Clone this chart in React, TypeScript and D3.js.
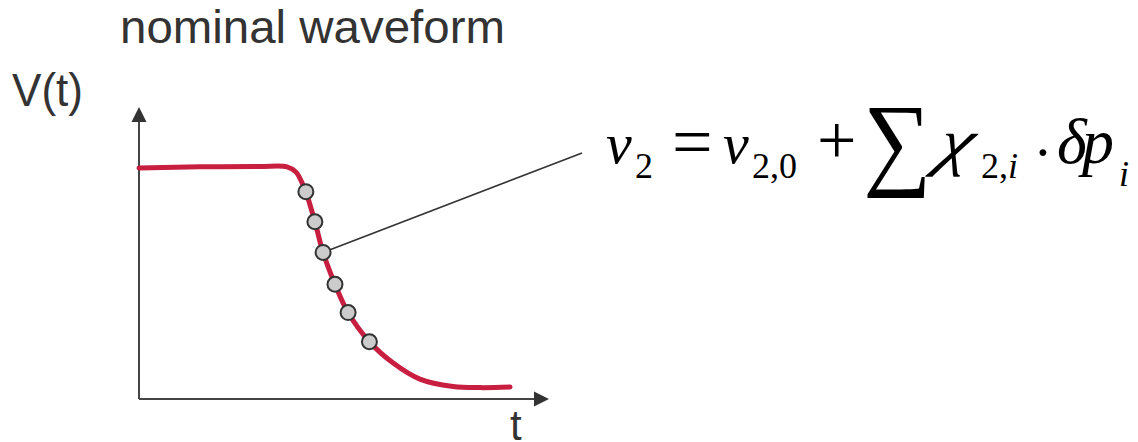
import React from "react";
import * as d3 from "d3";

// Nominal waveform samples (t and V in percent of the axis range)
const waveT = [0, 14.9, 29.5, 36.1, 38.3, 40.0, 40.7, 42.9, 44.9, 47.8, 51.0, 56.2, 62.0, 68.5, 76.6, 83.2, 90.5];
const waveV = [79.1, 79.5, 79.6, 79.5, 77.7, 73.3, 71.0, 60.7, 50.2, 39.3, 29.6, 19.6, 12.3, 6.8, 4.3, 3.9, 4.1];

// Sample points marked on the falling edge
const sampleT = [40.7, 42.9, 44.9, 47.8, 51.0, 56.2];
const sampleV = [71.0, 60.7, 50.2, 39.3, 29.6, 19.6];
const highlightedSample = 2;

const titleText = "nominal waveform";
const yLabel = "V(t)";
const xLabel = "t";

const W = 1138;
const H = 442;
const RED = "#c81e40";
const INK = "#333333";

export default function App() {
  const x = d3.scaleLinear().domain([0, 100]).range([139, 549]);
  const y = d3.scaleLinear().domain([0, 100]).range([399, 107]);

  const pts: [number, number][] = waveT.map((t, i) => [x(t), y(waveV[i])]);
  const line = d3
    .line<[number, number]>()
    .x((d) => d[0])
    .y((d) => d[1])
    .curve(d3.curveCatmullRom.alpha(0.5));

  const hx = x(sampleT[highlightedSample]);
  const hy = y(sampleV[highlightedSample]);
  const r = 7.5;
  const leadEnd = [582, 153];
  const ang = Math.atan2(leadEnd[1] - hy, leadEnd[0] - hx);
  const lx0 = hx + r * Math.cos(ang);
  const ly0 = hy + r * Math.sin(ang);

  const serif = "'Liberation Serif', 'Times New Roman', serif";
  const sans = "'Liberation Sans', Arial, sans-serif";

  return (
    <svg width={W} height={H} style={{ position: "absolute", left: 0, top: 0, background: "#fff" }}>
      <rect width={W} height={H} fill="#fff" />
      <text x={120} y={43} fontFamily={sans} fontSize={46} fill={INK} textLength={385} lengthAdjust="spacingAndGlyphs">
        {titleText}
      </text>
      <text x={12} y={106} fontFamily={sans} fontSize={47} fill={INK} textLength={71} lengthAdjust="spacingAndGlyphs">
        {yLabel}
      </text>
      <text x={510} y={440} fontFamily={sans} fontSize={42} fill={INK}>
        {xLabel}
      </text>

      {/* axes */}
      <line x1={x(0)} y1={y(0)} x2={x(0)} y2={y(100) + 12} stroke="#444" strokeWidth={2} />
      <line x1={x(0)} y1={y(0)} x2={x(100) - 12} y2={y(0)} stroke="#444" strokeWidth={2} />
      <path d={`M${x(0)},${y(100)} L${x(0) - 7.5},${y(100) + 15} L${x(0) + 7.5},${y(100) + 15} Z`} fill={INK} />
      <path d={`M${x(100)},${y(0)} L${x(100) - 15},${y(0) - 7.5} L${x(100) - 15},${y(0) + 7.5} Z`} fill={INK} />

      {/* waveform */}
      <path d={line(pts) || ""} fill="none" stroke={RED} strokeWidth={5} strokeLinecap="round" />

      {/* leader to formula */}
      <line x1={lx0} y1={ly0} x2={leadEnd[0]} y2={leadEnd[1]} stroke={INK} strokeWidth={1.6} />

      {sampleT.map((t, i) => (
        <circle key={i} cx={x(t)} cy={y(sampleV[i])} r={r} fill="#cccccc" stroke={INK} strokeWidth={2} />
      ))}

      {/* v2 = v2,0 + sum chi2,i * delta p_i */}
      <g fontFamily={serif} fill="#000">
        <text x={606} y={163} fontSize={58} fontStyle="italic">v</text>
        <text x={635} y={178} fontSize={36}>2</text>
        <text x={672} y={166} fontSize={72}>=</text>
        <text x={723} y={163} fontSize={58} fontStyle="italic">v</text>
        <text x={752} y={178} fontSize={36}>2,0</text>
        <text x={817} y={164} fontSize={70}>+</text>
        <g transform="translate(863,176) scale(0.92,1)">
          <text x={0} y={0} fontSize={104}>∑</text>
        </g>
        <g transform="translate(935,163) scale(1.22,1) skewX(-12)">
          <text x={0} y={0} fontSize={64} fontStyle="italic">χ</text>
        </g>
        <text x={981} y={178} fontSize={36}>
          2,<tspan fontStyle="italic">i</tspan>
        </text>
        <text x={1043} y={172} fontSize={58} textAnchor="middle">·</text>
        <text x={1057} y={163} fontSize={64} fontStyle="italic">δ</text>
        <text x={1082} y={163} fontSize={64} fontStyle="italic">p</text>
        <text x={1119} y={186} fontSize={36} fontStyle="italic">i</text>
      </g>
    </svg>
  );
}
